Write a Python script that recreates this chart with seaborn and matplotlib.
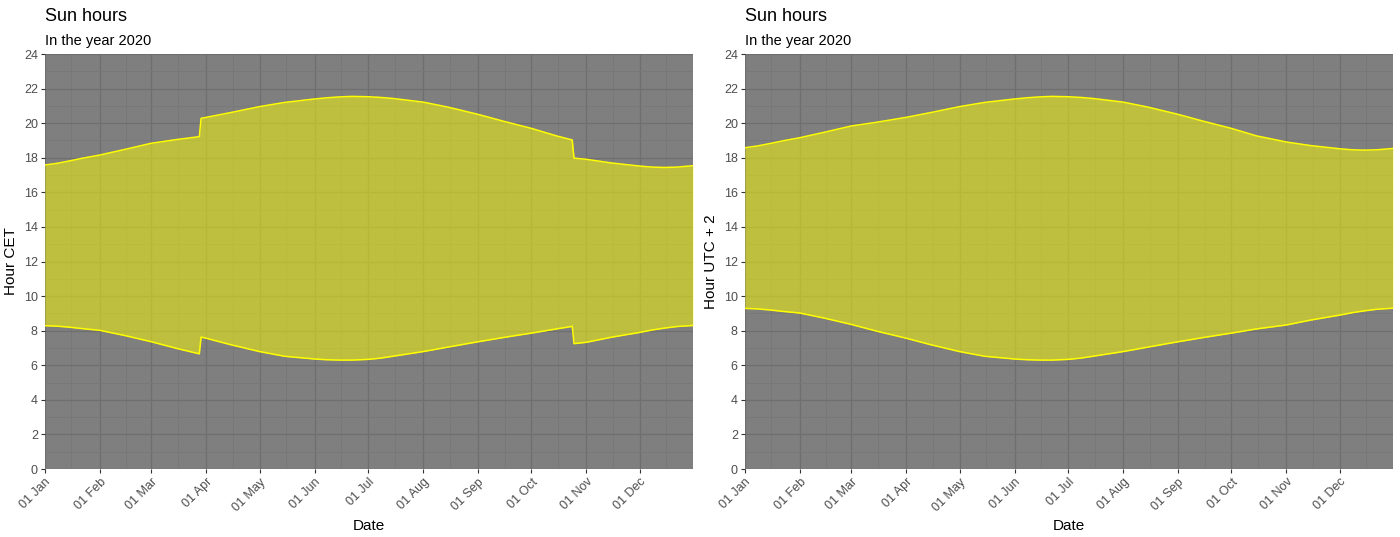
import numpy as np
import pandas as pd
import matplotlib
matplotlib.use("Agg")
import matplotlib.pyplot as plt
import matplotlib.dates as mdates
from matplotlib.ticker import MultipleLocator
import seaborn as sns

# ---- data ----
cet_dates = ["2020-01-01", "2020-01-08", "2020-01-15", "2020-01-22", "2020-02-01",
             "2020-02-15", "2020-03-01", "2020-03-15", "2020-03-28", "2020-03-29",
             "2020-04-01", "2020-04-15", "2020-05-01", "2020-05-15", "2020-06-01",
             "2020-06-08", "2020-06-15", "2020-06-22", "2020-07-01", "2020-07-08",
             "2020-07-15", "2020-08-01", "2020-08-15", "2020-09-01", "2020-09-15",
             "2020-10-01", "2020-10-15", "2020-10-24", "2020-10-25", "2020-11-01",
             "2020-11-15", "2020-12-01", "2020-12-08", "2020-12-15", "2020-12-22",
             "2020-12-31"]
cet_sunrise = [8.29, 8.26, 8.20, 8.12, 8.02, 7.72, 7.36, 6.98, 6.66, 7.63,
               7.56, 7.18, 6.79, 6.52, 6.36, 6.32, 6.30, 6.30, 6.34, 6.41,
               6.52, 6.79, 7.05, 7.36, 7.60, 7.86, 8.10, 8.25, 7.25, 7.33,
               7.62, 7.90, 8.04, 8.15, 8.24, 8.30]
cet_sunset = [17.58, 17.68, 17.82, 17.97, 18.16, 18.48, 18.84, 19.05, 19.22, 20.28,
              20.34, 20.62, 20.96, 21.20, 21.40, 21.47, 21.52, 21.55, 21.53, 21.49,
              21.43, 21.22, 20.93, 20.51, 20.12, 19.70, 19.27, 19.03, 17.98, 17.91,
              17.70, 17.52, 17.46, 17.44, 17.46, 17.54]

utc2_dates = ["2020-01-01", "2020-01-08", "2020-01-15", "2020-01-22", "2020-02-01",
              "2020-02-15", "2020-03-01", "2020-03-15", "2020-04-01", "2020-04-15",
              "2020-05-01", "2020-05-15", "2020-06-01", "2020-06-08", "2020-06-15",
              "2020-06-22", "2020-07-01", "2020-07-08", "2020-07-15", "2020-08-01",
              "2020-08-15", "2020-09-01", "2020-09-15", "2020-10-01", "2020-10-15",
              "2020-11-01", "2020-11-15", "2020-12-01", "2020-12-08", "2020-12-15",
              "2020-12-22", "2020-12-31"]
utc2_sunrise = [9.29, 9.26, 9.20, 9.12, 9.02, 8.72, 8.36, 7.98, 7.56, 7.18,
                6.79, 6.52, 6.36, 6.32, 6.30, 6.30, 6.34, 6.41, 6.52, 6.79,
                7.05, 7.36, 7.60, 7.86, 8.10, 8.33, 8.62, 8.90, 9.04, 9.15,
                9.24, 9.30]
utc2_sunset = [18.58, 18.68, 18.82, 18.97, 19.16, 19.48, 19.84, 20.05, 20.34, 20.62,
               20.96, 21.20, 21.40, 21.47, 21.52, 21.55, 21.53, 21.49, 21.43, 21.22,
               20.93, 20.51, 20.12, 19.70, 19.27, 18.91, 18.70, 18.52, 18.46, 18.44,
               18.46, 18.54]

y_ticks = list(range(0, 25, 2))

# ---- style ----
sns.set_theme(style="white")
plt.rcParams["font.family"] = ["Liberation Sans", "DejaVu Sans"]

BG = "#7f7f7f"
MAJ = "#6f6f6f"
MIN = "#777777"
TXT = "#4d4d4d"

fig = plt.figure(figsize=(14, 5.37), dpi=100)
ax1 = fig.add_axes([0.032, 0.1266, 0.463, 0.7728])
ax2 = fig.add_axes([0.532, 0.1266, 0.463, 0.7728])

panels = [
    (ax1, cet_dates, cet_sunrise, cet_sunset, "Hour CET"),
    (ax2, utc2_dates, utc2_sunrise, utc2_sunset, "Hour UTC + 2"),
]

for ax, dates, rise, sset, ylab in panels:
    df = pd.DataFrame({"date": pd.to_datetime(dates), "rise": rise, "set": sset})
    ax.set_facecolor(BG)
    ax.fill_between(df["date"], df["rise"], df["set"], color="yellow",
                    alpha=0.5, linewidth=0, zorder=2)
    sns.lineplot(data=df, x="date", y="rise", ax=ax, color="yellow",
                 linewidth=1.1, zorder=3)
    sns.lineplot(data=df, x="date", y="set", ax=ax, color="yellow",
                 linewidth=1.1, zorder=3)

    ax.set_xlim(pd.Timestamp("2020-01-01"), pd.Timestamp("2020-12-31"))
    ax.set_ylim(0, 24)
    ax.set_yticks(y_ticks)
    ax.yaxis.set_minor_locator(MultipleLocator(1))
    ax.xaxis.set_major_locator(mdates.MonthLocator())
    ax.xaxis.set_major_formatter(mdates.DateFormatter("%d %b"))
    ax.xaxis.set_minor_locator(mdates.MonthLocator(bymonthday=16))

    ax.set_axisbelow(True)
    ax.grid(which="major", color=MAJ, linewidth=0.9, zorder=1)
    ax.grid(which="minor", color=MIN, linewidth=0.6, zorder=1)

    for s in ax.spines.values():
        s.set_visible(False)

    ax.tick_params(axis="both", which="major", length=3, width=0.8,
                   color="#333333", labelsize=9, labelcolor=TXT, pad=2,
                   bottom=True, left=True)
    ax.tick_params(axis="both", which="minor", length=0)
    for lab in ax.get_xticklabels():
        lab.set_rotation(45)
        lab.set_ha("right")
        lab.set_rotation_mode("anchor")

    ax.set_xlabel("Date", fontsize=11, color="black", labelpad=4)
    ax.set_ylabel(ylab, fontsize=11, color="black", labelpad=4)

    ax.text(0.0, 1.022, "In the year 2020", transform=ax.transAxes,
            fontsize=10.5, ha="left", va="baseline", color="black")
    ax.text(0.0, 1.08, "Sun hours", transform=ax.transAxes,
            fontsize=13, ha="left", va="baseline", color="black")

fig.savefig("out.png", dpi=100, facecolor="white")
